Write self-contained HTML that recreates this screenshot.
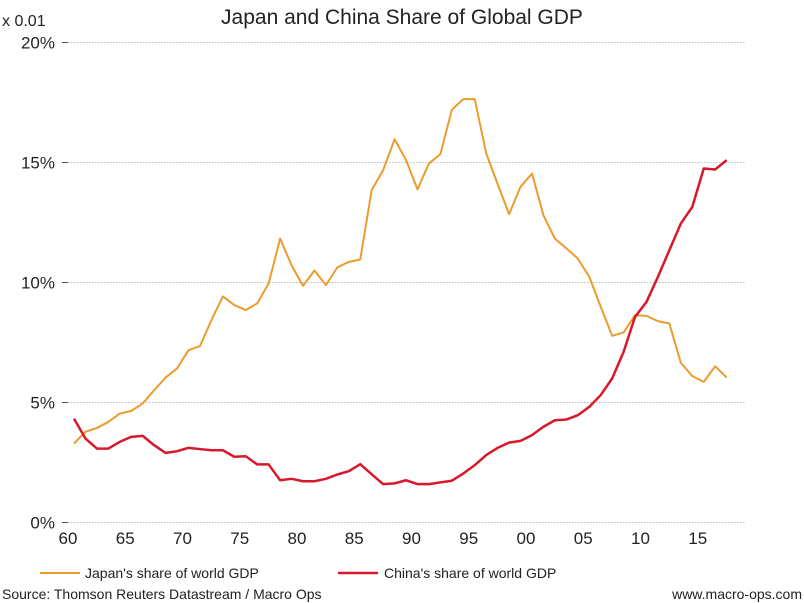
<!DOCTYPE html>
<html><head><meta charset="utf-8"><style>
body{margin:0;background:#fff;}
svg{display:block;font-family:"Liberation Sans",sans-serif;}
</style></head><body>
<svg id="chart" width="804" height="603">
<text x="402" y="24" text-anchor="middle" font-size="21" fill="#222">Japan and China Share of Global GDP</text>
<text x="2" y="26" font-size="16" fill="#222">x 0.01</text>
<g id="grid"></g><g id="series"></g>
<g>
<line x1="40" y1="573" x2="80" y2="573" stroke="#ec9b2e" stroke-width="2"/>
<text x="85" y="578" font-size="14" fill="#222">Japan's share of world GDP</text>
<line x1="338" y1="573" x2="378" y2="573" stroke="#d7192b" stroke-width="2.5"/>
<text x="384" y="578" font-size="14" fill="#222">China's share of world GDP</text>
</g>
<text x="2" y="599" font-size="14" fill="#222">Source: Thomson Reuters Datastream / Macro Ops</text>
<text x="802" y="599" text-anchor="end" font-size="14" fill="#222">www.macro-ops.com</text>
</svg>
<script>
const years=[];for(let y=1960;y<=2017;y++)years.push(y);
const japan=[3.29,3.78,3.94,4.19,4.54,4.65,4.96,5.51,6.04,6.42,7.18,7.35,8.43,9.42,9.06,8.85,9.13,9.96,11.83,10.72,9.86,10.5,9.89,10.63,10.86,10.96,13.85,14.68,15.97,15.1,13.88,14.96,15.35,17.2,17.64,17.64,15.38,14.1,12.85,13.99,14.54,12.8,11.83,11.42,11.0,10.24,8.99,7.78,7.92,8.64,8.61,8.39,8.29,6.65,6.1,5.86,6.51,6.04];
const china=[4.33,3.5,3.08,3.08,3.36,3.57,3.61,3.22,2.9,2.97,3.11,3.06,3.01,3.01,2.74,2.76,2.42,2.42,1.76,1.82,1.72,1.72,1.82,2.0,2.14,2.43,2.01,1.6,1.63,1.76,1.6,1.6,1.67,1.74,2.04,2.39,2.81,3.11,3.33,3.4,3.64,3.99,4.26,4.29,4.47,4.82,5.31,6.0,7.11,8.57,9.19,10.24,11.35,12.46,13.15,14.75,14.71,15.1];
const yTicks=[0,5,10,15,20];
const yTickLabels=["0%","5%","10%","15%","20%"];
const xTicks=[1960,1965,1970,1975,1980,1985,1990,1995,2000,2005,2010,2015];
const xTickLabels=["60","65","70","75","80","85","90","95","00","05","10","15"];
const NS="http://www.w3.org/2000/svg";
const xS=y=>74+11.45*(y-1960);
const yS=v=>522.5-24*v;
function mk(t,a,p){const e=document.createElementNS(NS,t);for(const k in a)e.setAttribute(k,a[k]);p.appendChild(e);return e;}
const g=document.getElementById('grid'),s=document.getElementById('series');
yTicks.forEach((v,i)=>{
 const l=mk('line',{x1:68,x2:745,y1:yS(v),y2:yS(v),stroke:'#bbb','stroke-width':1,'stroke-dasharray':'1.5,1.5'},g);
 
 
 const tk=mk('line',{x1:62,x2:68,y1:yS(v),y2:yS(v),stroke:'#555','stroke-width':1},g);
 
 
 const t=mk('text',{x:55,y:yS(v)+6,'text-anchor':'end','font-size':17,fill:'#222'},g);t.textContent=yTickLabels[i];
 
 
});
xTicks.forEach((y,i)=>{
 const t=mk('text',{x:xS(y)-6,y:544,'text-anchor':'middle','font-size':17,fill:'#222'},g);t.textContent=xTickLabels[i];
 
 
});
function line(d,c,w,n){const p=mk('polyline',{points:d.map((v,i)=>xS(years[i])+','+yS(v)).join(' '),fill:'none',stroke:c,'stroke-width':w,'stroke-linejoin':'round'},s);
 
 }
line(japan,'#ec9b2e',2,'japan-line');
line(china,'#d7192b',2.5,'china-line');
</script>
</body></html>
